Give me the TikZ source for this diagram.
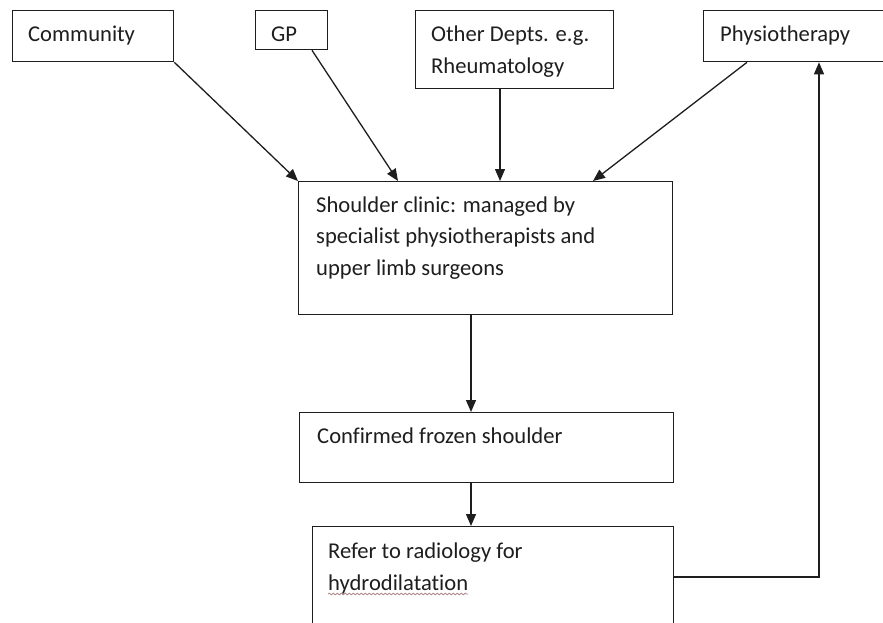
\documentclass[tikz,border=0pt]{standalone}
\usepackage{fontspec}
\setmainfont{Carlito}[Ligatures=NoCommon]
\usetikzlibrary{arrows.meta,decorations.pathmorphing}
\definecolor{ink}{RGB}{30,30,30}
\definecolor{wavy}{RGB}{175,140,140}
\tikzset{
  box/.style={draw=ink, line width=1.3pt, inner sep=0pt, anchor=north west},
  lbl/.style={text=ink, inner sep=0pt, anchor=base west, align=left,
              font=\fontsize{22.6}{31.5}\selectfont},
  conn/.style={draw=ink, line width=1.3pt, -{Triangle[length=12pt,width=10pt]}},
  plain/.style={draw=ink, line width=1.3pt}
}
\begin{document}
\begin{tikzpicture}[x=1pt,y=-1pt]
\clip (0,0) rectangle (883,623);
\fill[white] (0,0) rectangle (883,623);
% boxes
\node[box, minimum width=161pt, minimum height=51pt] (com) at (12,10) {};
\node[box, minimum width=72pt,  minimum height=39pt] (gp)  at (255,10) {};
\node[box, minimum width=198pt, minimum height=78pt] (oth) at (415,10) {};
\node[box, minimum width=190pt, minimum height=51pt] (phy) at (703,10) {};
\node[box, minimum width=374pt, minimum height=133pt] (sh) at (298,181) {};
\node[box, minimum width=374pt, minimum height=70pt] (conf) at (299,412) {};
\node[box, minimum width=361pt, minimum height=120pt] (ref) at (312,526) {};
% texts
\node[lbl] (tcom) at (28,42) {Community};
\node[lbl] (tgp) at (271,42) {GP};
\node[lbl] (toth) at (431,42) {Other Depts. e.g.};
\node[lbl] (toth2) at (431,74) {Rheumatology};
\node[lbl] (tphy) at (720,42) {Physiotherapy};
\node[lbl] (tsh1) at (316,212) {Shoulder clinic: managed by};
\node[lbl] (tsh2) at (316,243.5) {specialist physiotherapists and};
\node[lbl] (tsh3) at (316,275) {upper limb surgeons};
\node[lbl] (tconf) at (317,443) {Confirmed frozen shoulder};
\node[lbl] (tref1) at (328,558) {Refer to radiology for};
\node[lbl] (tref2) at (328,590) {hydrodilatation};
\draw[wavy, line width=0.8pt, decorate, decoration={snake, amplitude=0.9pt, segment length=4pt}]
  ([yshift=-4pt]tref2.base west) -- ([yshift=-4pt]tref2.base east);
% connectors
\draw[conn] (com.south east) -- (sh.north west);
\draw[conn] ([xshift=57pt]gp.south west) -- ([xshift=100pt]sh.north west);
\draw[conn] ([xshift=85pt]oth.south west) -- ([xshift=202pt]sh.north west);
\draw[conn] ([xshift=44pt]phy.south west) -- ([xshift=295pt]sh.north west);
\draw[conn] ([xshift=173pt]sh.south west) -- ([xshift=172pt]conf.north west);
\draw[conn] ([xshift=172pt]conf.south west) -- ([xshift=159pt]ref.north west);
\draw[conn] ([yshift=-51pt]ref.north east) -| ([xshift=116pt]phy.south west);
\end{tikzpicture}
\end{document}
